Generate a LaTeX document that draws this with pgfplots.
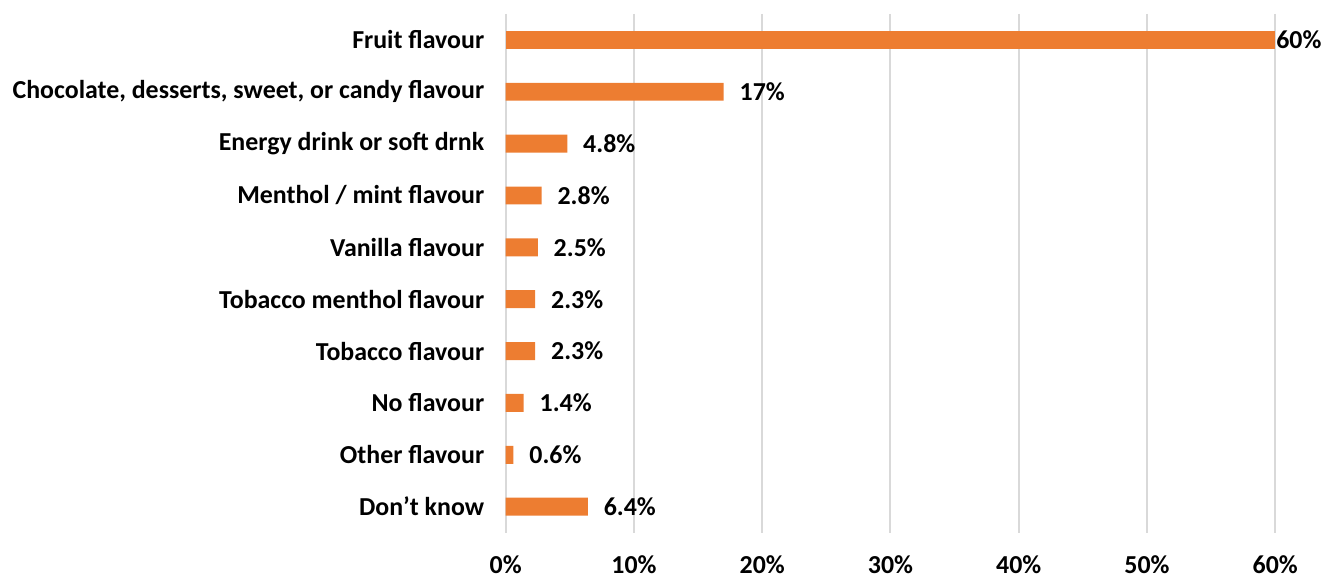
\documentclass[border=0pt]{standalone}
\usepackage{fontspec}
\setmainfont{Carlito}
\usepackage{pgfplots}
\pgfplotsset{compat=1.18}
\definecolor{barorange}{HTML}{ED7D31}
\definecolor{gridgray}{HTML}{D9D9D9}
\begin{document}
\begin{tikzpicture}
\begin{axis}[
  at={(0,0)}, anchor=south west,
  scale only axis,
  width=386.5pt, height=260.5pt,
  xbar, bar width=9pt, bar shift=0pt,
  xmin=0, xmax=60,
  ymin=-0.5, ymax=9.5,
  y dir=reverse,
  axis line style={draw=none},
  xtick={0,10,20,30,40,50,60},
  xticklabels={0\%,10\%,20\%,30\%,40\%,50\%,60\%},
  xmajorgrids,
  major grid style={gridgray, line width=1pt},
  ytick={0,...,9},
  yticklabels={Fruit flavour,{Chocolate, desserts, sweet, or candy flavour},Energy drink or soft drnk,Menthol / mint flavour,Vanilla flavour,Tobacco menthol flavour,Tobacco flavour,No flavour,Other flavour,Don’t know},
  tick style={draw=none},
  yticklabel style={font=\fontsize{13}{15}\selectfont\bfseries, xshift=-3pt},
  xticklabel style={font=\fontsize{13}{15}\selectfont\bfseries, yshift=-8pt},
  /pgf/number format/assume math mode=true,
  clip=false,
]
\addplot[fill=barorange, draw=none,
  nodes near coords, point meta=explicit symbolic,
  every node near coord/.append style={font=\fontsize{13}{15}\selectfont\bfseries, anchor=west, xshift=4.5pt, black}]
  table[meta=lab] {
x y lab
17 1 17\%
4.8 2 4.8\%
2.8 3 2.8\%
2.5 4 2.5\%
2.3 5 2.3\%
2.3 6 2.3\%
1.4 7 1.4\%
0.6 8 0.6\%
6.4 9 6.4\%
};
\addplot[fill=barorange, draw=none,
  nodes near coords, point meta=explicit symbolic,
  every node near coord/.append style={font=\fontsize{13}{15}\selectfont\bfseries, anchor=west, xshift=-3pt, black}]
  table[meta=lab] {
x y lab
60 0 60\%
};
\end{axis}
\path (-254pt,-21pt) rectangle (410pt,267.5pt);
\end{tikzpicture}
\end{document}
